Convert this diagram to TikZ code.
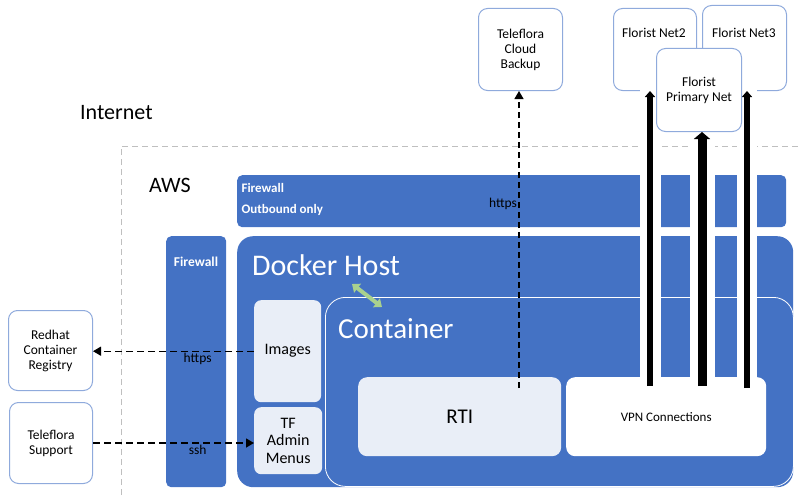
\documentclass[tikz,border=0pt]{standalone}
\usepackage{fontspec}
\setmainfont{Carlito}
\usepackage{xcolor}
\usepackage{tikz}
\usetikzlibrary{arrows.meta}

\definecolor{awsblue}{HTML}{4472C4}
\definecolor{boxline}{HTML}{8FAADC}
\definecolor{pale}{HTML}{E9EEF7}
\definecolor{gline}{HTML}{BFBFBF}
\definecolor{dgreen}{HTML}{A9D18E}

\begin{document}
\begin{tikzpicture}[x=1pt,y=-1pt,
	bluebox/.style={fill=awsblue, rounded corners=5pt, anchor=north west, inner sep=0pt},
	extbox/.style={draw=boxline, line width=1pt, fill=white, rounded corners=9pt, anchor=north west,
		inner sep=0pt, align=center, font=\fontsize{13.5}{15}\selectfont},
	inbox/.style={fill=pale, rounded corners=7pt, anchor=north west, inner sep=0pt, align=center},
	dasharr/.style={line width=1.4pt, dash pattern=on 7pt off 4pt, -{Triangle[width=9pt,length=8pt]}},
	vpnarr/.style={line width=6pt, -{Triangle[width=10pt,length=6pt]}},
	casing/.style={white, line width=21pt, shorten >=-1.5pt},
	small/.style={font=\fontsize{13.5}{15}\selectfont, inner sep=1.5pt}]
	\useasboundingbox (0,0) rectangle (800,495);

	% Internet / AWS
	\draw[gline, line width=1pt, dash pattern=on 6pt off 4pt] (121,495) |- (800,146);
	\node[anchor=base west, inner sep=0pt, font=\fontsize{22}{26}\selectfont] (inet) at (80,119) {Internet};
	\node[anchor=base west, inner sep=0pt, font=\fontsize{22}{26}\selectfont] (aws) at (149,192) {AWS};

	% Firewalls
	\node[bluebox, minimum width=549pt, minimum height=52pt] (fwout) at (237,175) {};
	\node[anchor=west, white, font=\bfseries\fontsize{13}{15}\selectfont] (fwout1) at (238,188) {Firewall};
	\node[anchor=west, white, font=\bfseries\fontsize{13}{15}\selectfont] (fwout2) at (238,210) {Outbound only};
	\node[bluebox, minimum width=60pt, minimum height=251pt] (fwin) at (166,236) {};
	\node[white, font=\bfseries\fontsize{13.5}{15}\selectfont] (fwin1) at (196,262) {Firewall};

	% Docker Host und Container
	\node[bluebox, rounded corners=16pt, minimum width=556pt, minimum height=251pt] (host) at (237,236) {};
	\node[anchor=base west, inner sep=0pt, white, font=\fontsize{30}{34}\selectfont] (hostt) at (252,275) {Docker Host};
	\node[bluebox, draw=white, line width=0.8pt, rounded corners=20pt, minimum width=468pt, minimum height=189pt] (cont) at (325,297) {};
	\node[anchor=base west, inner sep=0pt, white, font=\fontsize{29}{33}\selectfont] (contt) at (338,338) {Container};
	\coordinate (g1) at (352,284);
	\coordinate (g2) at (382,307);
	\draw[dgreen, line width=4pt, {Triangle[width=11pt,length=7pt]}-{Triangle[width=11pt,length=7pt]}] (g1) -- (g2);

	% Inhalt
	\node[inbox, minimum width=67pt, minimum height=102pt, font=\fontsize{16}{18}\selectfont] (images) at (254,300) {Images};
	\node[inbox, minimum width=68pt, minimum height=67pt, font=\fontsize{16}{17.5}\selectfont] (tfadmin) at (254,407) {TF\\Admin\\Menus};
	\node[inbox, rounded corners=9pt, minimum width=203pt, minimum height=79pt, font=\fontsize{21}{24}\selectfont] (rti) at (358,377) {RTI};
	\node[inbox, fill=white, rounded corners=9pt, minimum width=200pt, minimum height=79pt, font=\fontsize{13}{15}\selectfont] (vpn) at (566,377) {VPN Connections};

	% Aussen
	\node[extbox, minimum width=84pt, minimum height=82pt] (backup) at (478,8) {Teleflora\\Cloud\\Backup};
	\node[extbox, minimum width=83pt, minimum height=82pt] (net2) at (613,8) {};
	\node[small] (net2t) at (654,33) {Florist Net2};
	\node[extbox, minimum width=84pt, minimum height=85pt] (net3) at (702,5) {};
	\node[small] (net3t) at (744,33) {Florist Net3};
	\node[extbox, minimum width=84pt, minimum height=80pt] (redhat) at (8,310) {Redhat\\Container\\Registry};
	\node[extbox, minimum width=83pt, minimum height=81pt] (support) at (9,402) {Teleflora\\Support};

	% VPN Pfeile
	\coordinate (v1) at (650,386);
	\coordinate (v2) at (702,386);
	\coordinate (v3) at (747,388);
	\draw[casing] (v1) -- (v1 |- net2.south);
	\draw[casing, line width=25pt, shorten >=0pt] (v2) -- (702,131);
	\draw[casing, line width=20pt] (v3) -- (v3 |- net3.south);
	\draw[vpnarr] (v1) -- (v1 |- net2.south);
	\draw[vpnarr] (v3) -- (v3 |- net3.south);
	\node[extbox, minimum width=85pt, minimum height=83pt] (prim) at (656,48) {Florist\\Primary Net};
	\draw[vpnarr, line width=9pt, -{Triangle[width=16pt,length=7pt]}] (v2) -- (v2 |- prim.south);

	% Gestrichelte Verbindungen
	\coordinate (rtiup) at (519,388);
	\draw[dasharr, line width=1.2pt, dash pattern=on 6pt off 4pt] (rtiup) -- (rtiup |- backup.south)
		node[small, pos=0.62, left] (https1) {https};
	\draw[dasharr] (images.west) -- (redhat.east |- images.west)
		node[small, pos=0.35, below] (https2) {https};
	\draw[dasharr] (support.east) -- (support.east -| tfadmin.west)
		node[small, pos=0.65, below] (ssh) {ssh};
\end{tikzpicture}
\end{document}
